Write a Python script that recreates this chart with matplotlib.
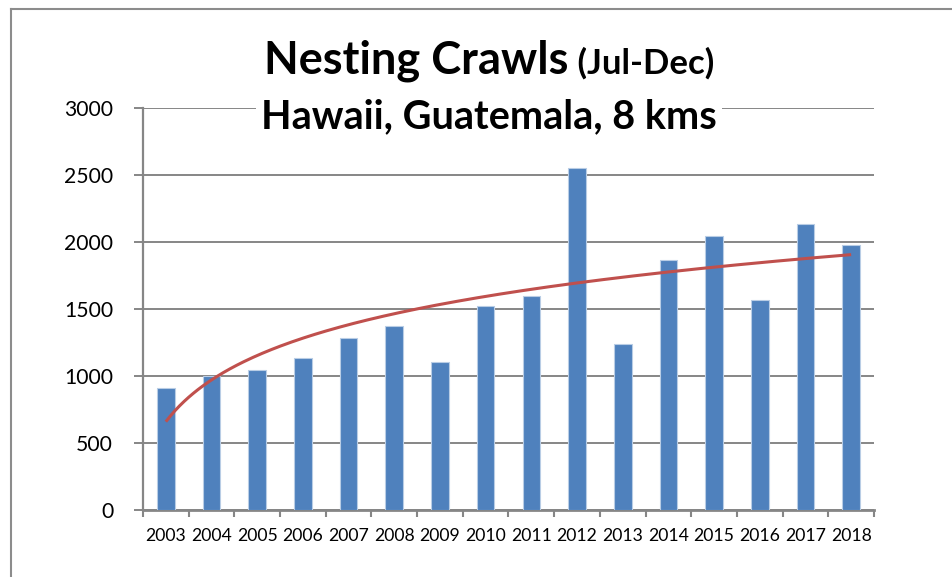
import numpy as np
import matplotlib
matplotlib.use('Agg')
import matplotlib.pyplot as plt
from matplotlib.lines import Line2D

plt.rcParams['font.family'] = ['Lato', 'DejaVu Sans']

# Nesting crawls counted July-December each season
years = [2003, 2004, 2005, 2006, 2007, 2008, 2009, 2010,
         2011, 2012, 2013, 2014, 2015, 2016, 2017, 2018]
crawls = [908, 1000, 1045, 1137, 1282, 1369, 1102, 1519,
          1594, 2555, 1237, 1868, 2043, 1564, 2133, 1975]
y_ticks = [0, 500, 1000, 1500, 2000, 2500, 3000]

grid_grey = '#868686'
bar_blue = '#4F81BD'
trend_red = '#C0504D'

fig = plt.figure(figsize=(9.53, 5.77), dpi=100)
ax = fig.add_axes([143 / 953, 67.4 / 577, 731 / 953, 401.3 / 577])

pos = np.arange(len(years))
ax.bar(pos, crawls, width=0.387, color=bar_blue, edgecolor='#B9CDE5',
       linewidth=0.8, zorder=3)

# logarithmic trendline fitted to the yearly counts
n = np.arange(1, len(years) + 1)
slope, intercept = np.polyfit(np.log(n), crawls, 1)
n_fine = np.linspace(1, len(years), 300)
ax.plot(n_fine - 1, slope * np.log(n_fine) + intercept, color=trend_red,
        lw=2.2, zorder=4, solid_capstyle='butt')

ax.set_xlim(-0.5, len(years) - 0.5)
ax.set_ylim(0, 3000)
ax.set_yticks(y_ticks)
ax.set_yticklabels([str(v) for v in y_ticks])
ax.yaxis.grid(True, color=grid_grey, lw=1.4, zorder=0)
ax.set_axisbelow(True)

# tick marks between categories, labels centred under each bar
ax.set_xticks(np.arange(-0.5, len(years)), minor=False)
ax.set_xticklabels([])
ax.set_xticks(pos, minor=True)
ax.set_xticklabels([str(y) for y in years], minor=True)
ax.tick_params(axis='x', which='major', direction='out', length=5,
               width=1.5, color=grid_grey)
ax.tick_params(axis='x', which='minor', length=0, pad=13, labelsize=12.7)
ax.tick_params(axis='y', direction='out', length=6.5, width=1.4,
               color=grid_grey, pad=15, labelsize=15.2)

for side in ['top', 'right']:
    ax.spines[side].set_visible(False)
ax.spines['left'].set_color(grid_grey)
ax.spines['left'].set_linewidth(1.6)
ax.spines['bottom'].set_color(grid_grey)
ax.spines['bottom'].set_linewidth(2.0)

# two-line title, first line in two sizes
cx = 489 / 953
t1 = fig.text(0, (577 - 74) / 577, 'Nesting Crawls', fontsize=32.5,
              fontweight='bold', va='baseline', ha='left')
t2 = fig.text(0, (577 - 74) / 577, ' (Jul-Dec)', fontsize=25,
              fontweight='bold', va='baseline', ha='left')
r = fig.canvas.get_renderer()
w1 = t1.get_window_extent(r).width
w2 = t2.get_window_extent(r).width
x0 = cx * 953 - (w1 + w2) / 2
t1.set_x(x0 / 953)
t2.set_x((x0 + w1) / 953)

fig.text(cx, (577 - 128) / 577, 'Hawaii, Guatemala, 8 kms', fontsize=28.5,
         fontweight='bold', va='baseline', ha='center',
         bbox=dict(facecolor='white', edgecolor='none', pad=4))

# chart border (left and top edges)
frame_col = '#8C8C8C'
fig.add_artist(Line2D([11 / 953, 11 / 953], [0, (577 - 9) / 577],
                      color=frame_col, lw=1.5))
fig.add_artist(Line2D([11 / 953, 1], [(577 - 9) / 577, (577 - 9) / 577],
                      color=frame_col, lw=1.5))

fig.savefig('out.png', dpi=100)
